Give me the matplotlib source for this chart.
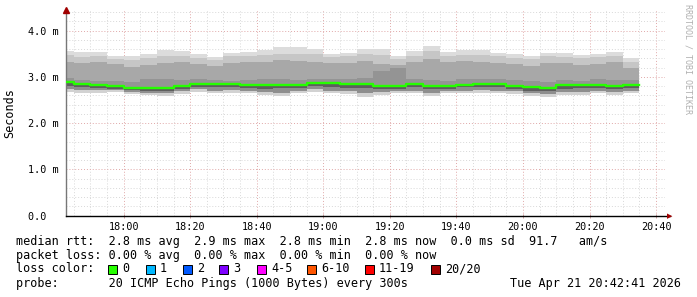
import datetime as dt
import matplotlib
matplotlib.use("Agg")
import matplotlib.pyplot as plt
import matplotlib.dates as mdates
from matplotlib.patches import Rectangle

# 5 minute rrd steps, first one starts at 17:40
step_start = dt.datetime(2026, 4, 21, 17, 40)
t_start = dt.datetime(2026, 4, 21, 17, 42, 41)
t_end = dt.datetime(2026, 4, 21, 20, 42, 41)

# median rtt per step (ms)
med = [2.88, 2.845, 2.82, 2.795, 2.76, 2.76, 2.76, 2.795, 2.85, 2.85, 2.845, 2.83,
       2.815, 2.83, 2.83, 2.87, 2.87, 2.84, 2.85, 2.80, 2.80, 2.85, 2.81, 2.795,
       2.83, 2.85, 2.85, 2.81, 2.77, 2.75, 2.82, 2.82, 2.83, 2.81, 2.82]
# smoke, upper side (ms)
top = [3.56, 3.53, 3.53, 3.45, 3.45, 3.49, 3.58, 3.56, 3.49, 3.43, 3.51, 3.53,
       3.59, 3.64, 3.64, 3.61, 3.49, 3.52, 3.60, 3.60, 3.45, 3.56, 3.67, 3.54,
       3.59, 3.58, 3.52, 3.49, 3.45, 3.52, 3.51, 3.47, 3.49, 3.54, 3.40]
hi3 = [3.47, 3.43, 3.45, 3.38, 3.36, 3.40, 3.45, 3.44, 3.40, 3.36, 3.44, 3.44,
       3.47, 3.50, 3.50, 3.50, 3.42, 3.44, 3.50, 3.48, 3.38, 3.46, 3.55, 3.45,
       3.48, 3.47, 3.44, 3.40, 3.38, 3.44, 3.43, 3.40, 3.42, 3.46, 3.33]
hi2 = [3.33, 3.30, 3.32, 3.28, 3.22, 3.25, 3.30, 3.31, 3.27, 3.24, 3.30, 3.32,
       3.33, 3.36, 3.34, 3.33, 3.29, 3.30, 3.34, 3.28, 3.26, 3.31, 3.38, 3.32,
       3.34, 3.33, 3.30, 3.27, 3.24, 3.30, 3.30, 3.26, 3.28, 3.32, 3.20]
hi1 = [2.98, 2.93, 2.91, 2.90, 2.88, 2.96, 2.96, 2.93, 2.95, 2.94, 2.91, 2.93,
       2.96, 2.96, 2.94, 2.96, 2.95, 2.96, 2.98, 3.12, 3.18, 2.95, 2.93, 2.91,
       2.95, 2.95, 2.96, 2.93, 2.90, 2.88, 2.93, 2.92, 2.95, 2.93, 2.94]
# smoke, lower side (ms)
lo1 = [2.80, 2.78, 2.76, 2.74, 2.71, 2.70, 2.70, 2.74, 2.79, 2.78, 2.78, 2.76,
       2.74, 2.75, 2.76, 2.80, 2.79, 2.76, 2.76, 2.73, 2.73, 2.78, 2.73, 2.73,
       2.77, 2.78, 2.77, 2.74, 2.70, 2.69, 2.74, 2.75, 2.76, 2.73, 2.75]
lo2 = [2.74, 2.72, 2.71, 2.71, 2.67, 2.66, 2.65, 2.69, 2.73, 2.70, 2.71, 2.70,
       2.67, 2.66, 2.70, 2.73, 2.70, 2.69, 2.65, 2.67, 2.69, 2.70, 2.66, 2.70,
       2.70, 2.71, 2.70, 2.69, 2.65, 2.63, 2.67, 2.68, 2.70, 2.67, 2.70]
bot = [2.68, 2.66, 2.66, 2.68, 2.62, 2.61, 2.59, 2.63, 2.68, 2.64, 2.66, 2.64,
       2.61, 2.59, 2.64, 2.68, 2.64, 2.63, 2.57, 2.61, 2.64, 2.64, 2.59, 2.66,
       2.64, 2.66, 2.64, 2.63, 2.59, 2.57, 2.61, 2.61, 2.64, 2.61, 2.64]

loss_labels = ["0", "1", "2", "3", "4-5", "6-10", "11-19", "20/20"]
loss_colors = ["#26ff00", "#00b8ff", "#0059ff", "#7e00ff", "#ff00ff", "#ff5500", "#ff0000", "#a10000"]
loss_x = [108, 146, 183, 219, 257, 307, 365, 431]

yticks = [0, 1, 2, 3, 4]
ytick_labels = ["0.0  ", "1.0 m", "2.0 m", "3.0 m", "4.0 m"]

legend_lines = [
    "median rtt:  2.8 ms avg  2.9 ms max  2.8 ms min  2.8 ms now  0.0 ms sd  91.7   am/s",
    "packet loss: 0.00 % avg  0.00 % max  0.00 % min  0.00 % now",
    "loss color:",
    "probe:       20 ICMP Echo Pings (1000 Bytes) every 300s",
]
stamp = "Tue Apr 21 20:42:41 2026"

mono = "DejaVu Sans Mono"
W, H = 697, 297

edges = [step_start + dt.timedelta(minutes=5 * i) for i in range(len(med) + 1)]


def ext(v):
    return list(v) + [v[-1]]


fig = plt.figure(figsize=(W / 100, H / 100), dpi=100)
ax = fig.add_axes([66 / W, (H - 215.7) / H, 599 / W, 206 / H])

# smoke bands, outer first
for hi, c in [(top, "#dcdcdc"), (hi3, "#c6c6c6"), (hi2, "#a8a8a8"), (hi1, "#949494")]:
    ax.fill_between(edges, ext(med), ext(hi), step="post", color=c, lw=0, zorder=2)
for lo, c in [(bot, "#d2d2d2"), (lo2, "#8e8e8e"), (lo1, "#5e5e5e")]:
    ax.fill_between(edges, ext(lo), ext(med), step="post", color=c, lw=0, zorder=2)
ax.step(edges, ext(med), where="post", color=loss_colors[0], lw=1.7, zorder=3)

ax.set_xlim(t_start, t_end)
ax.set_ylim(0, 4.45)

ax.xaxis.set_major_locator(mdates.MinuteLocator(byminute=[0, 20, 40]))
ax.xaxis.set_minor_locator(mdates.MinuteLocator(byminute=range(0, 60, 5)))
ax.xaxis.set_major_formatter(mdates.DateFormatter("%H:%M"))
ax.set_yticks(yticks)
ax.set_yticklabels(ytick_labels)
ax.set_yticks([i * 0.2 for i in range(23)], minor=True)

dots = (0, (1, 2))
ax.grid(which="minor", color="#d8d8d8", lw=0.7, ls=dots, zorder=1)
ax.grid(which="major", color="#e0a8a8", lw=0.7, ls=dots, zorder=1)
ax.set_axisbelow(True)

for lab in ax.get_xticklabels() + ax.get_yticklabels():
    lab.set_family(mono)
    lab.set_fontsize(7.3)
ax.tick_params(which="both", length=0)
ax.tick_params(axis="x", which="major", length=3, direction="inout", width=0.7, color="#d0a0a0", pad=3)
ax.tick_params(axis="y", pad=5)

for s in ["top", "right"]:
    ax.spines[s].set_visible(False)
ax.spines["left"].set_color("#777777")
ax.spines["left"].set_linewidth(1)
ax.spines["bottom"].set_color("black")
ax.spines["bottom"].set_linewidth(1)
ax.spines["bottom"].set_bounds(mdates.date2num(t_start), mdates.date2num(t_end + dt.timedelta(minutes=1.5)))
ax.spines["bottom"].set_clip_on(False)

# axis arrows
ax.plot([0], [1.0], marker="^", color="#a00000", ms=4, transform=ax.transAxes, clip_on=False, zorder=5)
fig.text(667 / W, 1 - 215.7 / H, "\u25b6", color="#a00000", fontsize=5, ha="left", va="center")

fig.text(10 / W, 1 - 113 / H, "Seconds", rotation=90, family=mono, fontsize=8.5, ha="center", va="center")
fig.text(688 / W, 1 - 4 / H, "RRDTOOL / TOBI OETIKER", rotation=270, family=mono, fontsize=6,
         color="#b0b0b0", ha="center", va="top")

ys = [241, 255, 269, 283]
for txt, y in zip(legend_lines, ys):
    fig.text(16 / W, 1 - y / H, txt, family=mono, fontsize=8.5, ha="left", va="center")
fig.text(681 / W, 1 - ys[3] / H, stamp, family=mono, fontsize=8.5, ha="right", va="center")

for lab, c, x in zip(loss_labels, loss_colors, loss_x):
    fig.patches.append(Rectangle((x / W, 1 - (ys[2] + 4.5) / H), 9 / W, 9 / H, facecolor=c,
                                 edgecolor="black", lw=0.7, transform=fig.transFigure))
    fig.text((x + 14) / W, 1 - ys[2] / H, lab, family=mono, fontsize=8.5, ha="left", va="center")

fig.savefig("out.png", dpi=100, facecolor="white")
